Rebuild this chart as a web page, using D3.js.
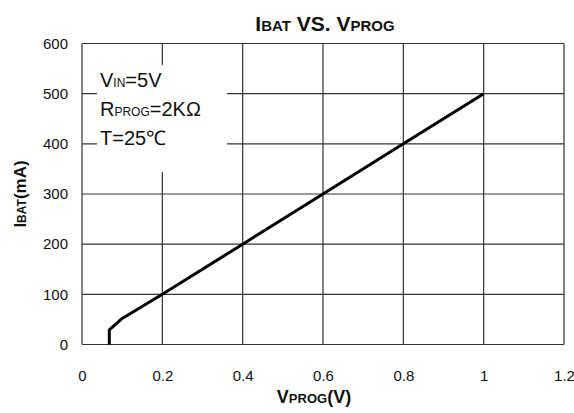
<!DOCTYPE html>
<html>
<head>
<meta charset="utf-8">
<script src="https://cdn.jsdelivr.net/npm/d3@7"></script>
<style>
  body { margin: 0; background: #fff; }
  text { font-family: "Liberation Sans", Arial, sans-serif; fill: #111; }
</style>
</head>
<body>
<div id="chart"></div>
<script>
// data
var vprog = [0.068, 0.068, 0.1, 0.2, 0.4, 0.6, 0.8, 1.0];
var ibat = [0, 29, 52, 100, 200, 300, 400, 500];

var xTicks = [0, 0.2, 0.4, 0.6, 0.8, 1, 1.2];
var yTicks = [0, 100, 200, 300, 400, 500, 600];

var svgWidth = 574;
var svgHeight = 413;

var margin = { top: 43.5, right: 10, bottom: 68.5, left: 82 };
var width = 564 - margin.left;
var height = 344.5 - margin.top;

var svg = d3.select("#chart")
  .append("svg")
  .attr("width", svgWidth)
  .attr("height", svgHeight);

var chartGroup = svg.append("g")
  .attr("transform", `translate(${margin.left}, ${margin.top})`);

var xScale = d3.scaleLinear().domain([0, 1.2]).range([0, width]);
var yScale = d3.scaleLinear().domain([0, 600]).range([height, 0]);

// grid lines
chartGroup.selectAll(".vgrid")
  .data(xTicks)
  .enter()
  .append("line")
  .attr("x1", d => xScale(d))
  .attr("x2", d => xScale(d))
  .attr("y1", 0)
  .attr("y2", height)
  .attr("stroke", "#333")
  .attr("stroke-width", 1.2);

chartGroup.selectAll(".hgrid")
  .data(yTicks)
  .enter()
  .append("line")
  .attr("x1", 0)
  .attr("x2", width)
  .attr("y1", d => yScale(d))
  .attr("y2", d => yScale(d))
  .attr("stroke", "#333")
  .attr("stroke-width", 1.2);

// white box behind the conditions text
chartGroup.append("rect")
  .attr("x", 97 - margin.left)
  .attr("y", 65 - margin.top)
  .attr("width", 130)
  .attr("height", 107)
  .attr("fill", "#fff");

// axes (tick labels only)
var bottomAxis = d3.axisBottom(xScale).tickValues(xTicks).tickSize(0).tickPadding(26)
  .tickFormat(d => d3.format("")(d));
var leftAxis = d3.axisLeft(yScale).tickValues(yTicks).tickSize(0).tickPadding(14);

var xAxisG = chartGroup.append("g")
  .attr("transform", `translate(0, ${height})`)
  .call(bottomAxis);
var yAxisG = chartGroup.append("g").call(leftAxis);

[xAxisG, yAxisG].forEach(function(g) {
  g.select(".domain").remove();
  g.selectAll("text")
    .style("font-family", "'Liberation Sans', Arial, sans-serif")
    .style("font-size", "15px")
    .attr("fill", "#111");
});

// the curve
var line = d3.line()
  .x((d, i) => xScale(vprog[i]))
  .y(d => yScale(d));

chartGroup.append("path")
  .datum(ibat)
  .attr("d", line)
  .attr("fill", "none")
  .attr("stroke", "#000")
  .attr("stroke-width", 3)
  .attr("stroke-linejoin", "round");

// helper for small-caps style labels
function addParts(textSel, parts) {
  parts.forEach(function(p) {
    textSel.append("tspan").text(p[0]).style("font-size", p[1] + "px");
  });
}

// title
var title = svg.append("text")
  .attr("x", 325)
  .attr("y", 31)
  .attr("text-anchor", "middle")
  .style("font-weight", "bold");
addParts(title, [["I", 21], ["BAT", 15], [" VS. ", 21], ["V", 21], ["PROG", 15]]);

// x label
var xLabel = svg.append("text")
  .attr("x", 314)
  .attr("y", 403)
  .attr("text-anchor", "middle")
  .style("font-weight", "bold");
addParts(xLabel, [["V", 18], ["PROG", 13], ["(V)", 18]]);

// y label
var yLabel = svg.append("text")
  .attr("transform", "translate(26, 194) rotate(-90)")
  .attr("text-anchor", "middle")
  .style("font-weight", "bold");
addParts(yLabel, [["I", 17], ["BAT", 12], ["(mA)", 17]]);

// conditions
var cond = [
  [["V", 20], ["IN", 12], ["=5V", 20]],
  [["R", 20], ["PROG", 12], ["=2K\u03A9", 20]],
  [["T=25\u2103", 20]]
];
cond.forEach(function(parts, i) {
  var t = svg.append("text")
    .attr("x", 100)
    .attr("y", 87 + i * 29);
  addParts(t, parts);
});
</script>
</body>
</html>
